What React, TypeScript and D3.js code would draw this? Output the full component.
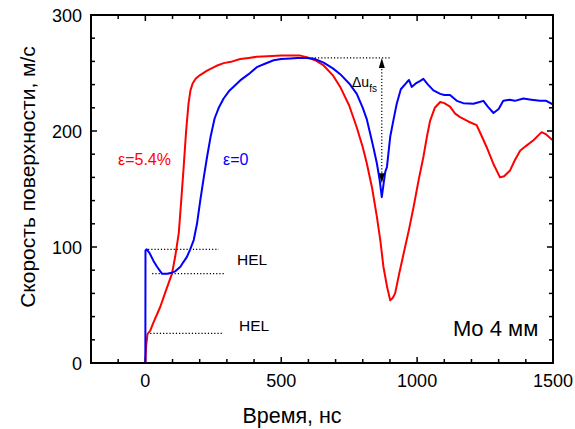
import React from "react";
import * as d3 from "d3";

const blueT = [-130,0,0.5,5,15,30,43,61,80,92,110,129,140,153,165,178,190,202,215,227,240,255,270,288,310,349,380,410,440,472,500,533,560,594,625,656,690,717,750,778,800,815,827,840,852,862,870,877,883,889,901,915,925,940,962,970,980,995,1010,1023,1040,1060,1085,1100,1121,1146,1170,1207,1230,1244,1260,1281,1300,1317,1340,1360,1391,1420,1452,1475,1499];
const blueV = [0,0,97,98,95,88,83,77,77,77.5,79,83,87,91.5,98,106,120,140,160,177.6,195,211,220,228,235,243.6,249,255,258,261,262,262.5,263,263,262,259,254,249,241,232,220,210,198,185,172,158,143,155,165,169,195,212,223.5,236,242,244,238,241,243,245,240,235,232,231,231,226,224,223.5,225,226,221,215.5,219,226,227,226,228,227,226,226,223];

const redT = [-130,0,3,8,18,30,55,75,98,110,123,132,141,150,159,166,174,185,200,227,260,288,320,349,380,410,450,500,533,570,594,625,656,690,717,750,778,800,815,835,852,865,876,890,901,910,919,935,950,970,987,1005,1023,1036,1048,1065,1085,1100,1121,1140,1158,1190,1219,1235,1256,1280,1305,1320,1342,1360,1379,1400,1428,1445,1458,1475,1499];
const redV = [0,0,15,25,28,35,48.5,62,77,92,112,140,169,200,224,235,241,245,248,252,256,258.5,260,262,263,264,264.5,265,265,265,263.7,261,256.5,248,238,222,203,186,172,150,126,105,83,65,54,56,60,78,94,115,134.5,157,177.6,195,209,220,225,224,221,215,212,208,205,197,186,172,160,161,166,175,183,187,192,196,199,197,192];

const xTicks = [0, 500, 1000, 1500];
const yTicks = [0, 100, 200, 300];
const xMinor = d3.range(-200, 1501, 100);
const yMinor = d3.range(0, 301, 20);

const W = 575, H = 429;
const L = 91, R = 553, T = 15, B = 363;

export default function App() {
  const x = d3.scaleLinear().domain([-200, 1500]).range([L, R]);
  const y = d3.scaleLinear().domain([0, 300]).range([B, T]);
  const line = d3.line<[number, number]>().x(d => x(d[0])).y(d => y(d[1]));
  const blue = blueT.map((t, i) => [t, blueV[i]] as [number, number]);
  const red = redT.map((t, i) => [t, redV[i]] as [number, number]);
  const font = "Arial, 'Liberation Sans', sans-serif";
  const dot = { stroke: "#000", strokeWidth: 1.2, strokeDasharray: "1.2,2", fill: "none" };
  const ax = x(870);
  const yTop = y(263), yBot = y(155);
  return (
    <svg width={W} height={H} style={{ position: "absolute", left: 0, top: 0, background: "#fff" }} fontFamily={font}>
      <defs>
        <clipPath id="clip"><rect x={L} y={T} width={R - L} height={B - T} /></clipPath>
      </defs>
      {xMinor.map(v => (
        <g key={"xm" + v}>
          <line x1={x(v)} x2={x(v)} y1={B} y2={B - (v % 500 === 0 ? 6 : 4)} stroke="#000" strokeWidth={1.5} />
          <line x1={x(v)} x2={x(v)} y1={T} y2={T + (v % 500 === 0 ? 6 : 4)} stroke="#000" strokeWidth={1.5} />
        </g>
      ))}
      {yMinor.map(v => (
        <g key={"ym" + v}>
          <line x1={L} x2={L + (v % 100 === 0 ? 6 : 4)} y1={y(v)} y2={y(v)} stroke="#000" strokeWidth={1.5} />
          <line x1={R} x2={R - (v % 100 === 0 ? 6 : 4)} y1={y(v)} y2={y(v)} stroke="#000" strokeWidth={1.5} />
        </g>
      ))}
      <line x1={x(10)} x2={x(270)} y1={y(98)} y2={y(98)} {...dot} />
      <line x1={x(25)} x2={x(294)} y1={y(77)} y2={y(77)} {...dot} />
      <line x1={x(18)} x2={x(287)} y1={y(25.5)} y2={y(25.5)} {...dot} />
      <line x1={x(600)} x2={x(903)} y1={y(263)} y2={y(263)} {...dot} />
      <g clipPath="url(#clip)">
        <path d={line(red) || ""} fill="none" stroke="#ff0000" strokeWidth={2} strokeLinejoin="round" />
        <path d={line(blue) || ""} fill="none" stroke="#0000ff" strokeWidth={2} strokeLinejoin="round" />
      </g>
      <line x1={ax} x2={ax} y1={yTop + 8} y2={yBot - 8} {...dot} />
      <path d={`M${ax},${yTop} L${ax - 3},${yTop + 10} L${ax + 3},${yTop + 10} Z`} fill="#000" />
      <path d={`M${ax},${yBot} L${ax - 3},${yBot - 10} L${ax + 3},${yBot - 10} Z`} fill="#000" />
      <text x={352} y={87} fontSize={14}>Δu<tspan fontSize={10} dy={5}>fs</tspan></text>
      <rect x={L} y={T} width={R - L} height={B - T} fill="none" stroke="#000" strokeWidth={2} />
      <text x={237} y={265} fontSize={15.5}>HEL</text>
      <text x={239} y={331} fontSize={15.5}>HEL</text>
      <text x={118} y={165} fontSize={16} fill="#ff0000">ε=5.4%</text>
      <text x={223} y={165} fontSize={16} fill="#0000ff">ε=0</text>
      <text x={453} y={336} fontSize={22}>Mo 4 мм</text>
      {xTicks.map(v => (
        <text key={"xt" + v} x={x(v)} y={387} fontSize={18} textAnchor="middle">{v}</text>
      ))}
      {yTicks.map(v => (
        <text key={"yt" + v} x={82} y={y(v) + 6.5} fontSize={18} textAnchor="end">{v}</text>
      ))}
      <text x={292} y={423} fontSize={21.5} textAnchor="middle">Время, нс</text>
      <text transform={`translate(35,177) rotate(-90)`} fontSize={21} textAnchor="middle">Скорость поверхности, м/с</text>
    </svg>
  );
}
